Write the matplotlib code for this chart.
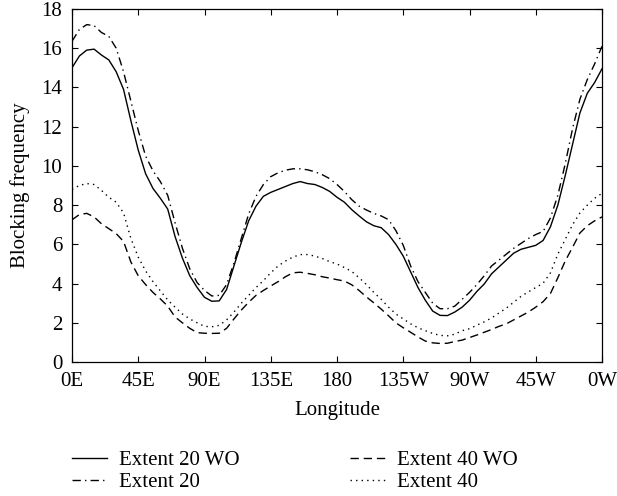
import numpy as np
import matplotlib
matplotlib.use("Agg")
import matplotlib.pyplot as plt

# longitude, degrees east from 0E round to 0W
lon = np.arange(0, 361, 5)

extent20_wo = [
    15.0, 15.6, 15.9, 15.95, 15.65, 15.4, 14.8, 13.9, 12.3, 10.8,
    9.6, 8.85, 8.35, 7.8, 6.4, 5.3, 4.4, 3.8, 3.3, 3.1,
    3.12, 3.7, 4.9, 6.1, 7.2, 7.95, 8.45, 8.65, 8.8, 8.95,
    9.1, 9.2, 9.1, 9.05, 8.9, 8.7, 8.4, 8.15, 7.77, 7.45,
    7.15, 6.95, 6.85, 6.5, 6.0, 5.4, 4.6, 3.8, 3.15, 2.6,
    2.38, 2.37, 2.55, 2.8, 3.15, 3.6, 3.98, 4.5, 4.85, 5.2,
    5.55, 5.75, 5.85, 5.95, 6.2, 6.9, 8.0, 9.5, 11.1, 12.7,
    13.7, 14.25, 14.95,
]
extent20 = [
    16.35, 16.95, 17.2, 17.15, 16.8, 16.6, 16.0, 14.8, 13.3, 11.8,
    10.5, 9.75, 9.2, 8.5, 7.1, 5.8, 4.75, 4.05, 3.65, 3.37,
    3.4, 3.95, 5.05, 6.3, 7.55, 8.45, 9.05, 9.45, 9.65, 9.78,
    9.85, 9.85, 9.8, 9.7, 9.55, 9.35, 9.05, 8.7, 8.28, 7.95,
    7.75, 7.58, 7.45, 7.26, 6.7, 5.95, 4.9, 4.1, 3.55, 3.0,
    2.72, 2.72, 2.85, 3.2, 3.55, 3.95, 4.4, 4.9, 5.2, 5.5,
    5.8, 6.05, 6.3, 6.5, 6.66, 7.35, 8.5, 10.1, 11.9, 13.4,
    14.4, 15.2, 16.1,
]
extent40_wo = [
    7.25, 7.52, 7.58, 7.4, 7.05, 6.8, 6.55, 6.15, 5.1, 4.4,
    3.95, 3.55, 3.22, 2.85, 2.3, 2.0, 1.72, 1.5, 1.47, 1.46,
    1.47, 1.72, 2.2, 2.65, 3.05, 3.4, 3.65, 3.88, 4.1, 4.35,
    4.55, 4.58, 4.52, 4.45, 4.35, 4.28, 4.2, 4.13, 3.94, 3.65,
    3.32, 3.02, 2.7, 2.36, 2.0, 1.75, 1.52, 1.28, 1.07, 0.98,
    0.95, 0.96, 1.05, 1.12, 1.25, 1.38, 1.52, 1.66, 1.82, 1.95,
    2.15, 2.35, 2.55, 2.8, 3.08, 3.5, 4.3, 5.15, 5.85, 6.58,
    6.95, 7.2, 7.4,
]
extent40 = [
    8.8, 9.0, 9.1, 9.05, 8.75, 8.4, 8.15, 7.6, 6.3, 5.35,
    4.65, 4.1, 3.63, 3.17, 2.8, 2.45, 2.2, 2.0, 1.82, 1.8,
    1.87, 2.15, 2.55, 3.0, 3.4, 3.8, 4.15, 4.55, 4.9, 5.15,
    5.35, 5.48, 5.48, 5.4, 5.28, 5.12, 5.0, 4.82, 4.62, 4.3,
    3.95, 3.55, 3.2, 2.8, 2.45, 2.2, 1.95, 1.75, 1.6, 1.46,
    1.36, 1.34, 1.42, 1.6, 1.7, 1.88, 2.05, 2.25, 2.5, 2.75,
    3.05, 3.35, 3.58, 3.8, 4.02, 4.55, 5.5, 6.25, 7.0, 7.6,
    8.0, 8.35, 8.6,
]

xtick_pos = [0, 45, 90, 135, 180, 225, 270, 315, 360]
xtick_labels = ["0E", "45E", "90E", "135E", "180", "135W", "90W", "45W", "0W"]

plt.rcParams["font.family"] = ["Liberation Serif", "DejaVu Serif"]
plt.rcParams["font.size"] = 15

fig = plt.figure(figsize=(6.17, 4.96), dpi=100)
ax = fig.add_axes([0.1167, 0.270, 0.859, 0.712])

lw = 1.0
ax.plot(lon, extent20_wo, color="black", lw=lw, ls="-", label="Extent 20 WO")
ax.plot(lon, extent20, color="black", lw=lw, ls=(0, (6, 3, 1, 3)), label="Extent 20")
ax.plot(lon, extent40_wo, color="black", lw=lw, ls=(0, (6, 3.5)), label="Extent 40 WO")
ax.plot(lon, extent40, color="black", lw=lw, ls=(0, (1, 3)), label="Extent 40")

ax.set_xlim(0, 360)
ax.set_ylim(0, 18)
ax.set_xticks(xtick_pos)
ax.set_xticklabels(xtick_labels)
ax.set_yticks(range(0, 19, 2))
ax.tick_params(direction="in", top=True, right=True, length=4, width=0.8, pad=7)
for s in ax.spines.values():
    s.set_linewidth(0.9)
ax.set_xlabel("Longitude", labelpad=7)
ax.set_ylabel("Blocking frequency", labelpad=8.5)

handles, labels = ax.get_legend_handles_labels()
fig.legend(handles, labels,
           ncol=2, frameon=False, loc="upper left",
           bbox_to_anchor=(0.103, 0.109), handlelength=1.7,
           handletextpad=0.55, columnspacing=5.3, labelspacing=0.12,
           borderaxespad=0)

fig.savefig("out.png", dpi=100, facecolor="white")
